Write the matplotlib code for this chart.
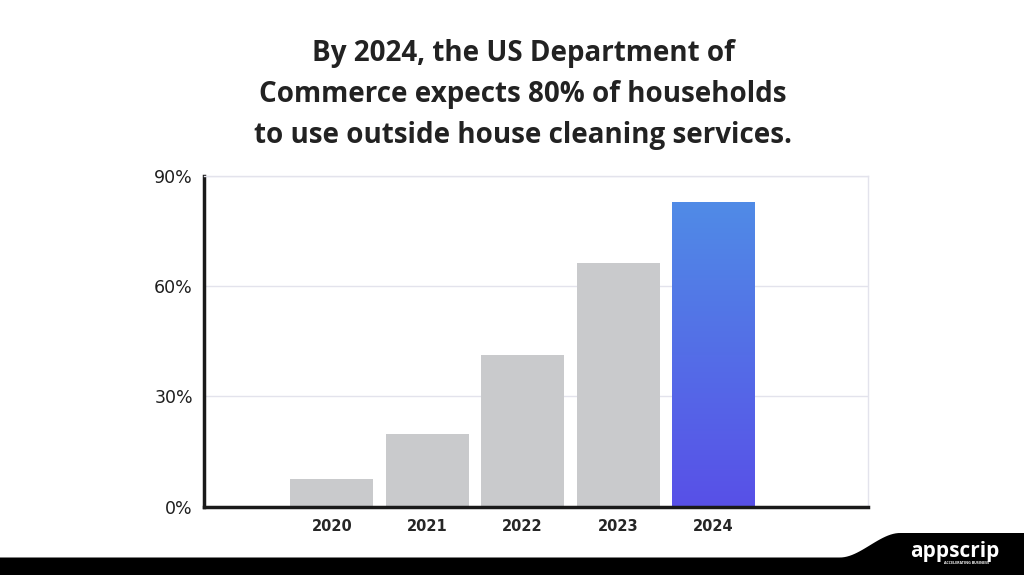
import numpy as np
import matplotlib.pyplot as plt
from matplotlib.patches import Polygon
from matplotlib.colors import LinearSegmentedColormap

# data
years = ["2020", "2021", "2022", "2023", "2024"]
shares = [7.4, 19.8, 41.2, 66.3, 82.8]
yticks = [0, 30, 60, 90]
ytick_labels = ["0%", "30%", "60%", "90%"]

title = ("By 2024, the US Department of\n"
         "Commerce expects 80% of households\n"
         "to use outside house cleaning services.")

W, H = 1024, 575
fig = plt.figure(figsize=(W / 100, H / 100), dpi=100)
fig.patch.set_facecolor("white")

ax = fig.add_axes([204 / W, 1 - 506.7 / H, (868 - 204) / W, (506.7 - 175.5) / H])
x = np.arange(len(years))
bars = ax.bar(x, shares, width=0.87, color="#c9cacc", zorder=2)

# gradient fill for the last bar
last = bars[-1]
last.set_facecolor("none")
grad = LinearSegmentedColormap.from_list("g", ["#5850e8", "#508be6"])
bx, bw, bh = last.get_x(), last.get_width(), last.get_height()
img = ax.imshow(np.linspace(0, 1, 256).reshape(-1, 1), cmap=grad, origin="lower",
                extent=[bx, bx + bw, 0, bh], aspect="auto", zorder=2)
img.set_clip_path(last)

ax.set_xlim(-1.34, 5.62)
ax.set_ylim(0, 90)
ax.set_xticks(x)
ax.set_xticklabels(years, fontsize=10.5, fontweight="bold", color="#262626",
                   family="DejaVu Sans")
ax.set_yticks(yticks)
ax.set_yticklabels(ytick_labels, fontsize=12.5, color="#1e1e1e",
                   family="DejaVu Sans")
ax.tick_params(axis="both", length=0)
ax.tick_params(axis="x", pad=9)
ax.tick_params(axis="y", pad=8)
ax.grid(axis="y", color="#e3e3ec", linewidth=1, zorder=0)
ax.set_axisbelow(True)

for side in ["left", "bottom"]:
    ax.spines[side].set_color("#1a1a1a")
    ax.spines[side].set_linewidth(2.5)
ax.spines["right"].set_color("#e3e3ec")
ax.spines["right"].set_linewidth(1)
ax.spines["top"].set_color("#e3e3ec")
ax.spines["top"].set_linewidth(1)

fig.text(523 / W, 1 - 94.5 / H, title, ha="center", va="center", fontsize=20,
         fontweight="bold", color="#222222", family="Open Sans",
         linespacing=1.56)

# black footer band with a wave on the right
xs = np.linspace(0, W, 400)
t = np.clip((xs - 840) / 60, 0, 1)
ys = 557.5 - 24.5 * (3 * t ** 2 - 2 * t ** 3)
pts = [(0, H)] + list(zip(xs, ys)) + [(W, H)]
pts = [(px / W, 1 - py / H) for px, py in pts]
fig.patches.append(Polygon(pts, closed=True, transform=fig.transFigure,
                           facecolor="black", edgecolor="none"))

fig.text(955 / W, 1 - 551 / H, "appscrip", ha="center", va="center",
         fontsize=15, fontweight="bold", color="white", family="Open Sans")
fig.text(966 / W, 1 - 562.5 / H, "ACCELERATING BUSINESS", ha="center",
         va="center", fontsize=2.6, fontweight="bold", color="white",
         family="Open Sans")

fig.savefig("out.png", dpi=100, facecolor="white")
